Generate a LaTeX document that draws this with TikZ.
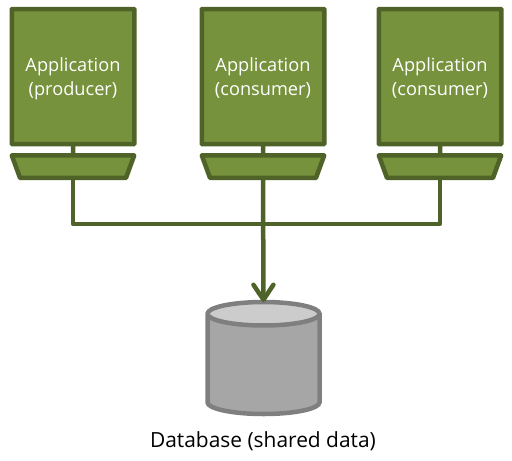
\documentclass[tikz,border=0pt]{standalone}
\usepackage{fontspec}
\setmainfont{Open Sans}
\usetikzlibrary{shapes.geometric,arrows.meta,calc}
\definecolor{olive}{HTML}{76923C}
\definecolor{olivedark}{HTML}{4F6228}
\definecolor{dbline}{HTML}{7F7F7F}
\definecolor{dbbody}{HTML}{A6A6A6}
\definecolor{dbtopc}{HTML}{CCCCCC}
\tikzset{
  appbox/.style={rectangle,draw=olivedark,fill=olive,line width=4.5pt,rounded corners=0.6pt,
    minimum width=122.5pt,minimum height=135pt,inner sep=0pt,outer sep=0pt,
    text=white,align=center,font=\fontsize{18.2pt}{24pt}\selectfont},
  portbox/.style={trapezium,shape border rotate=180,trapezium stretches=true,
    trapezium left angle=84.4,trapezium right angle=84.4,draw=olivedark,fill=olive,
    line width=4.5pt,line join=round,minimum width=122.5pt,minimum height=22.5pt,inner sep=0pt,outer sep=0pt},
  wire/.style={draw=olivedark,line width=4.5pt,line join=round},
  dbshape/.style={cylinder,shape border rotate=90,draw=dbline,line width=4.5pt,
    cylinder uses custom fill,cylinder body fill=dbbody,cylinder end fill=dbtopc,
    minimum width=112pt,minimum height=112pt,aspect=2.6,inner sep=0pt,outer sep=0pt}
}
\newcommand{\applabel}[1]{\raisebox{-7pt}[24pt][24pt]{\begin{tabular}{@{}c@{}}Application\\#1\end{tabular}}}
\begin{document}
\begin{tikzpicture}[x=1pt,y=-1pt]
\useasboundingbox (0,0) rectangle (512,461);
\node[appbox] (a1) at (73,76.5) {\applabel{(producer)}};
\node[appbox] (a2) at (263,76.5) {\applabel{(consumer)}};
\node[appbox] (a3) at (440,76.5) {\applabel{(consumer)}};
\node[portbox] (p1) at (73,166.7) {\phantom{M}};
\node[portbox] (p2) at (263,166.7) {\phantom{M}};
\node[portbox] (p3) at (440,166.7) {\phantom{M}};
\node[dbshape] (db) at (263.5,365) {\phantom{M}};
\coordinate (j) at (263,224);
\node[font=\fontsize{20.9pt}{22pt}\selectfont,text=black] (lbl) at (263,441) {Database (shared data)};
\draw[wire] (a1.south) -- (p1.north);
\draw[wire] (a2.south) -- (p2.north);
\draw[wire] (a3.south) -- (p3.north);
\draw[wire] (p1.south) |- (j) -| (p3.south);
\draw[wire,-{Straight Barb[length=15pt,width=20pt,round,line width=4.5pt]}] (p2.south) -- (db.north);
\end{tikzpicture}
\end{document}
